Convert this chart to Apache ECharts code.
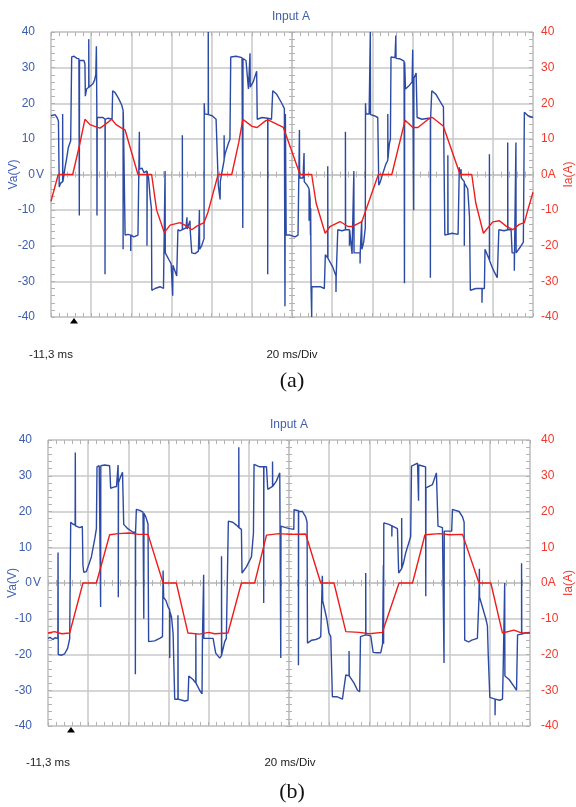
<!DOCTYPE html>
<html>
<head>
<meta charset="utf-8">
<title>Input A</title>
<script src="https://cdn.jsdelivr.net/npm/echarts@6.0.0/dist/echarts.min.js"></script>
<style>
  html, body { margin: 0; padding: 0; background: #fff; }
  #chart { width: 576px; height: 807px; }
</style>
</head>
<body>
<div id="chart"></div>
<script>
// time in ms from the left edge of the screen (12 div x 20 ms), Va in V, Ia in A
// (a) phase voltage
const vaA = [
  [0,16.5],[2.0,16.8],[3.0,16.0],[3.7,15.0],[4.1,-3.5],[4.7,-2.5],[5.8,-2],[5.8,17],[5.9,-2],[6.2,-1],[7.0,2],[7.8,4.5],[8.6,7.5],[9.8,9.5],[10.1,10],
  [10.3,33],[11.5,33.2],[12.9,32.6],[13.9,32.5],[14.1,-11.5],[14.2,32],[14.9,31.5],[16.4,32],[16.9,31],
  [17.1,22],[17.7,24],[18.8,24.5],[18.8,38],[18.9,24.5],[19.9,25],[20.9,25.5],[21.7,26.5],[22.3,28],[22.6,36],[22.8,20],[22.9,-11.5],[23.0,16],
  [23.9,15.5],[25.9,16],[26.9,15.5],[26.9,-28],[27.0,15.5],[28.4,15.8],[30.4,15.5],
  [30.7,23.5],[31.9,23],[33.5,21.5],[35.2,19.5],[35.9,18],[35.9,-21],[36.0,17.5],[36.5,17],
  [36.9,-17],[38.3,-16.8],[39.7,-17],[39.7,-21.5],[39.8,-17],[41.3,-17.5],[43.3,-17],
  [44.0,-17],[44.0,12],[44.1,1.5],[45.3,1.8],[46.3,0.5],[47.8,1],[47.8,-20],[47.9,0.5],[48.6,-1],[49.3,-6],[50.0,-9.5],
  [50.2,-32.5],[51.8,-32],[54.3,-31.5],[56.0,-32],[56.8,-31.5],[56.8,1],[56.9,-22],
  [57.3,-22.5],[58.8,-24],[59.8,-25],[60.6,-25.5],[60.6,-34],[60.7,-25.5],[61.3,-26],[62.6,-28.5],
  [63.2,-15.5],[64.2,-15.8],[65.4,-15.5],[65.4,11],[65.5,-15.5],[67.2,-15],[67.7,-12],[67.8,-15.3],[69.2,-13],[69.3,-15.5],[70.0,-15.5],
  [70.1,-22],[71.7,-22.2],[73.4,-21.5],[73.9,-21.5],[73.9,-10],[74.0,-21],[75.0,-20],[76.2,-18],
  [76.3,20],[76.5,17],[77.2,17],[78.3,16.8],[78.3,40],[78.4,16.8],[80.2,16.5],[82.2,15.5],
  [83.3,-3],[84.2,-3],[84.2,-7],[84.3,-2],[84.9,0],[86.2,4],[86.2,11],[86.3,4.5],[86.7,5.8],[88.3,8.7],[89.1,9.8],
  [89.5,33],[92.1,33.2],[95.1,32.8],[95.5,32.8],[95.5,-15],[95.6,32.5],[97.1,32],
  [98.3,24],[99.1,24.5],[99.1,34],[99.2,24.5],[100.1,25],[100.7,26],[102.4,29],
  [102.7,15.5],[105.1,16],[107.9,15.8],[107.9,-28],[108.0,15.8],[109.8,15.5],
  [110.4,23.5],[112.4,22.5],[114.9,20],[116.2,18.5],[116.5,-37],[116.7,17],[117.0,16.5],
  [117.1,-17],[119.0,-17],[121.5,-17.5],[123.0,-17],
  [123.7,-17],[123.7,12.5],[123.8,-1],[125.5,-1],[126.0,-1.5],[126.0,6],[126.1,-2],[127.5,-3],[128.5,-4],[128.5,-13],[128.6,-4.5],[129.0,-7],[129.2,-17],[129.3,-9.5],
  [129.5,-32],[129.8,-40],[129.9,-31.5],[132.0,-31.5],[134.0,-31.5],[136.1,-32],
  [136.6,-22.5],[137.8,-23.5],[137.8,2.3],[137.9,-23.5],[138.6,-24],[140.3,-26],[141.9,-28.5],[141.9,-33],[142.0,-28.5],
  [142.8,-15.5],[144.9,-15.8],[146.6,-15.5],[146.6,12],[146.7,-15.5],[148.6,-15.5],[148.6,-20],[148.7,-15.5],[149.4,-15.5],
  [149.9,-22.3],[150.8,-22],[150.8,1],[150.9,-22],[152.0,-22],[153.9,-22],[153.9,-25],[154.0,-21.5],[154.7,-21],[154.7,-13],[154.8,-21],[155.7,-19],[156.5,-15],
  [156.6,20],[156.8,17],[158.4,17],[159.0,16.8],[159.0,40],[159.1,16.8],[160.9,16.5],[162.7,16],
  [163.2,-3],[164.0,-2],[165.2,0.3],[166.8,3],[167.7,4],[167.7,17],[167.8,4.5],[168.5,8.7],[169.0,9.9],
  [169.3,33],[171.3,32.8],[171.7,32.8],[171.7,39],[171.8,32.6],[173.5,32.5],[175.8,31.8],[176.0,31.8],[176.0,-30.5],[176.1,31.5],
  [176.5,24],[178.4,25],[179.8,26],[180.1,26.2],[180.1,35],[180.2,26.5],[180.6,26.8],[180.6,-10],[180.7,27],[181.8,28.5],
  [182.3,16],[184.8,15.5],[187.8,15.8],[188.9,15.6],[188.9,-29],[189.0,15.5],[189.2,15.5],
  [189.6,23.5],[191.7,22.5],[193.7,20.5],[195.4,19],[195.9,18.5],
  [196.1,-17],[197.6,-16.8],[197.6,5.4],[197.7,-16.8],[199.7,-16.5],[202.7,-16.8],
  [203.3,-16.8],[203.3,2],[203.4,0],[204.2,0],[204.2,1.5],[204.3,-1],[205.8,-2],[205.8,-20],[205.9,-2.5],[207.5,-4],[208.4,-12],
  [208.8,-32.5],[211.6,-32],[214.6,-32],[214.6,-36],[214.7,-32],[215.8,-32],
  [216.1,-21],[218.3,-24],[218.3,5.7],[218.4,-24.2],[220.0,-26.5],[222.2,-29],
  [223.0,-15.5],[225.6,-15.8],[227.4,-15.5],[227.4,9],[227.5,-15.5],[229.1,-15.5],
  [229.6,-22],[230.7,-22],[230.7,-27],[230.8,-22],[231.5,-22],[231.5,9],[231.6,-22],[233.5,-20.5],[235.2,-19],
  [235.7,17.5],[237.5,16.5],[240,16]
];
// (a) phase current
const iaA = [
  [0,-7.5],[3.6,0],[10.8,0],[14.1,8],[16.9,15.5],[19.4,14],[22.8,13.3],[24.4,13],[26.9,14],[30.2,15.5],[32.4,14],[35.2,13],[36.9,12.5],
  [43.3,0],[50.1,0],[52.6,-10],[56.4,-16.3],[59.3,-14.2],[64.2,-13.5],[67.6,-14.5],[70.1,-15.5],[72.6,-14.5],[76.2,-13.5],[78.2,-10.5],
  [83.2,0],[90.0,0],[93.5,9],[95.5,15.5],[100.1,13.5],[102.6,13.2],[107.1,15.2],[108.6,15.2],[115.7,13.2],
  [124.0,0],[129.8,0],[132.0,-8],[136.5,-16.5],[138.9,-14.6],[143.9,-13.2],[147.9,-14.6],[149.9,-14.6],[154.8,-13.2],
  [163.0,0],[169.7,0],[176.3,15.2],[180.2,13.2],[182.7,13.2],[188.9,16],[189.9,16],[195.3,13.6],
  [203.7,0],[209.5,0],[211.5,-8],[215.3,-16.5],[220.0,-13.3],[223.3,-13],[226.6,-14.5],[229.9,-15.5],[233.2,-14],[235.7,-13.5],[237.4,-10],[240,-5]
];
// (b) phase voltage
const vaB = [
  [0,-15.5],[1.0,-15.2],[2.5,-15.8],[3.5,-15.3],[4.9,-15.5],[5.0,8.5],[5.1,-20],
  [6.8,-20.2],[8.3,-19.8],[9.8,-18.2],[10.8,-15.6],[11.2,-15.5],
  [11.3,17],[12.3,16.5],[13.5,16.2],[13.6,36.5],[13.7,16],[14.1,15.8],[15.8,15.5],[17.1,15.8],
  [17.4,5],[17.8,3],[18.3,2.8],[19.1,3.2],[19.9,4.5],[21.6,7.3],[23.3,12.4],[24.1,15.2],
  [24.4,32.5],[25.5,32.8],[26.2,33],[26.2,-6.7],[26.3,32.8],[28.2,33],[30.7,32.8],
  [31.2,26.5],[32.7,26.8],[34.1,27],[34.9,27.5],[34.9,33],[35.0,27.5],[35.0,-4],[35.1,28],[36.0,29.5],[37.1,31],
  [37.7,16.4],[39.7,15.2],[42.3,14.2],[43.5,14.2],[43.5,-25.5],[43.6,14.2],[43.9,14.5],
  [44.0,20.6],[45.7,20.3],[47.3,19.8],[47.7,19.6],[47.7,-10],[47.8,19.5],[48.7,18.5],[49.8,16.5],
  [50.1,-16.4],[53.1,-16.2],[55.6,-15.5],[57.0,-15],
  [57.3,3.5],[57.6,-4],[58.1,-4.4],[58.8,-5],[59.8,-6.7],[60.6,-7.5],[60.6,-21],[60.7,-8],[61.5,-9.5],[62.3,-14.2],
  [63.1,-32.5],[64.7,-32.5],[64.7,-9],[64.8,-32.5],[65.6,-32.5],[68.1,-33],[69.7,-32.8],
  [70.1,-26],[72.2,-27],[73.6,-28],[73.6,-14],[73.7,-28],[73.9,-28.5],[75.5,-30],[76.7,-31],
  [76.9,-15.9],[77.5,-15.5],[77.5,2.3],[77.6,-15.5],[79.5,-15.5],[82.2,-15.5],[83.0,-15.5],
  [83.5,-19.6],[85.5,-21],[86.4,-20.3],[86.4,7.5],[86.5,-20],[88.0,-16.4],[88.8,-15.5],
  [89.8,17.3],[92.0,17],[93.8,16.2],[95.0,15.5],[95.0,38],[95.1,15.5],[96.3,15],
  [96.6,2.8],[98.8,4.5],[101.3,7.3],[102.3,14],
  [102.6,33.2],[105.4,32.5],[107.4,32.5],[107.4,-5.6],[107.5,32.5],[108.8,32.5],
  [109.4,26.2],[111.8,27],[111.8,34],[111.9,27],[113.7,28.5],[115.4,30.8],
  [115.9,30.8],[115.9,-21],[116.0,15.9],[118.4,15.5],[120.4,15.2],[122.4,15],
  [122.5,20.5],[124.7,20.2],[124.7,-23],[124.8,20],[126.7,20],[128.3,18.5],[129.0,17],
  [129.2,-16.8],[131.3,-16],[133.3,-15.8],[134.8,-15.5],[135.8,-15],
  [136.6,-15],[136.6,2],[136.8,-5],[137.4,-6.5],[138.8,-10],[139.9,-14],
  [140.8,-15],[141.6,-31.8],[143.8,-31.8],[146.6,-32.5],[147.4,-33],
  [148.3,-25.7],[149.9,-26],[149.9,-19],[150.0,-26],[150.7,-26.5],[152.4,-28],[154.1,-30],[155.2,-30.4],
  [155.6,-15],[156.2,-15],[158.2,-14.5],[158.2,2.8],[158.3,-14.5],[160.7,-14.8],
  [161.9,-19.4],[163.7,-19.5],[165.7,-19.5],[166.6,-17],[167.0,-17],[167.0,5],[167.1,-17],
  [167.2,16.8],[169.8,16.4],[171.2,16],[171.2,13],[171.3,16],[174.0,15.2],
  [174.6,2.8],[176.1,4],[176.1,18.2],[176.2,4.2],[177.0,5.6],[178.1,8.4],[180.6,13],
  [181.0,32.7],[184.0,33.5],[184.5,33],[184.5,23],[184.6,33],[186.1,32.8],[188.0,32.5],[188.1,-3.7],[188.2,26.6],
  [191.4,27.5],[193.4,30.8],[193.9,31],
  [194.2,15.9],[196.4,15.5],[197.2,15],[197.2,-22.4],[197.3,14.5],[199.1,14.5],[201.0,14.5],
  [201.4,20.6],[202.5,20.4],[204.7,20],[206.4,18.5],[207.2,17],
  [207.5,-16],[209.4,-16.5],[211.0,-16],[213.8,-15.5],
  [214.6,-4],[214.8,4],[214.9,-4],[215.5,-4.5],[218.0,-10],[218.8,-12],
  [219.2,-20],[220.0,-32],[222.6,-32.5],[222.6,-37],[222.7,-32.5],[224.9,-32.8],[226.3,-32.5],
  [226.6,-25.5],[227.4,-26],[227.4,0],[227.5,-26],[229.6,-27],[232.1,-29],[233.3,-30],
  [233.8,-14.5],[235.8,-14.3],[235.8,5.5],[235.9,-14.3],[237.4,-14],[240,-13.8]
];
// (b) phase current
const iaB = [
  [0,-14],[3.3,-13.6],[6.8,-14.2],[10.8,-14],[11.3,-13.8],[17.4,0],[24.1,0],[30.7,13.5],[35,13.8],[40.7,14],[45,13.6],[49.8,13.6],
  [57.3,0],[63.9,0],[69.7,-14],[75.5,-14.3],[80,-13.8],[83.0,-14.2],[89.6,-14],
  [96.3,0],[102.9,0],[108.8,13.4],[115,13.8],[120,13.6],[128.3,13.7],
  [135.8,0],[142.4,0],[148.3,-13.6],[155,-13.8],[160,-14.2],[166.5,-13.8],
  [174.8,0],[181.5,0],[187.7,13.5],[195,13.8],[200,13.5],[206.4,13.6],
  [214.6,0],[220.5,0],[226.3,-14],[232,-13.2],[236,-14],[240,-14]
];

const TRACE_BLUE = '#2c4aa4';
const TRACE_RED = '#f01c1c';
const TEXT_BLUE = '#3d5eae';
const TEXT_RED = '#f2382c';
const GRID_GRAY = '#c8c8c8';
const TICK_GRAY = '#b2b2b2';
const FONT = '"Liberation Sans", Arial, sans-serif';

//时间轴(上下边框)
function timeAxis(gridIndex, position, withGrid) {
  return {
    type: 'value', gridIndex, position,
    min: 0, max: 240, interval: 20,
    axisLine: { show: false, onZero: false },
    axisTick: { show: true, inside: true, length: 4, lineStyle: { color: TICK_GRAY } },
    minorTick: { show: true, splitNumber: 5, length: 4, lineStyle: { color: TICK_GRAY } },
    axisLabel: { show: false },
    splitLine: { show: withGrid, lineStyle: { color: GRID_GRAY, width: 1.5 } }
  };
}

//电压轴(左)
function voltAxis(gridIndex, labelMargin, nameGap) {
  return {
    type: 'value', gridIndex, position: 'left',
    min: -40, max: 40, interval: 10,
    name: 'Va(V)', nameLocation: 'middle', nameGap: nameGap, nameRotate: 90, nameMoveOverlap: false,
    nameTextStyle: { color: TEXT_BLUE, fontSize: 12, fontFamily: FONT },
    axisLine: { show: false, onZero: false },
    axisTick: { show: true, inside: true, length: 4, lineStyle: { color: TICK_GRAY } },
    minorTick: { show: true, splitNumber: 5, length: 4, lineStyle: { color: TICK_GRAY } },
    axisLabel: {
      margin: labelMargin,
      formatter: v => (v === 0 ? '{n|0}{u|V}' : '{n|' + v + '}{u| }'),
      rich: {
        n: { color: TEXT_BLUE, fontSize: 12, fontFamily: FONT },
        u: { color: TEXT_BLUE, fontSize: 12, fontFamily: FONT, width: 10, align: 'left' }
      }
    },
    splitLine: { show: true, lineStyle: { color: GRID_GRAY, width: 1.5 } }
  };
}

//电流轴(右)
function ampAxis(gridIndex, labelMargin, nameGap) {
  return {
    type: 'value', gridIndex, position: 'right',
    min: -40, max: 40, interval: 10,
    name: 'Ia(A)', nameLocation: 'middle', nameGap: nameGap, nameRotate: 90, nameMoveOverlap: false,
    nameTextStyle: { color: TEXT_RED, fontSize: 12, fontFamily: FONT },
    axisLine: { show: false, onZero: false },
    axisTick: { show: true, inside: true, length: 4, lineStyle: { color: TICK_GRAY } },
    minorTick: { show: true, splitNumber: 5, length: 4, lineStyle: { color: TICK_GRAY } },
    axisLabel: {
      margin: labelMargin, color: TEXT_RED, fontSize: 12, fontFamily: FONT,
      formatter: v => (v === 0 ? '0A' : String(v))
    },
    splitLine: { show: false }
  };
}

//屏幕中心十字线上的刻度
function centerAxis(dim, gridIndex, inside) {
  const ax = {
    type: 'value', gridIndex,
    axisLine: { show: true, onZero: true, lineStyle: { color: GRID_GRAY, width: 1.5 } },
    axisTick: { show: true, inside, length: 3, lineStyle: { color: TICK_GRAY } },
    minorTick: { show: true, splitNumber: 5, length: 3, lineStyle: { color: TICK_GRAY } },
    axisLabel: { show: false },
    splitLine: { show: false }
  };
  if (dim === 'x') Object.assign(ax, { position: 'bottom', min: -6, max: 6, interval: 1 });
  else Object.assign(ax, { position: 'left', min: -4, max: 4, interval: 1 });
  return ax;
}

function caption(text, x, y, font, fill) {
  return {
    type: 'text', x, y, silent: true,
    style: { text, font, fill, textAlign: 'center', textVerticalAlign: 'middle' }
  };
}

function trigger(x, y) {
  return {
    type: 'polygon', x, y, silent: true,
    shape: { points: [[-4, 2.5], [4, 2.5], [0, -3]] },
    style: { fill: '#000' }
  };
}

function initChart() {
  const chart = echarts.init(document.getElementById('chart'), null, { renderer: 'canvas' });
  //不让 v6 自动收缩绘图区
  const gridA = { left: 51, top: 32, width: 482, height: 285, containLabel: false, outerBoundsMode: 'none' };
  const gridB = { left: 48, top: 440, width: 482, height: 286, containLabel: false, outerBoundsMode: 'none' };
  const frame = { show: true, borderColor: '#b4b4b4', borderWidth: 1, backgroundColor: '#fff' };

  const option = {
    animation: false,
    backgroundColor: '#fff',
    grid: [
      Object.assign({}, gridA, frame),
      Object.assign({}, gridB, frame),
      Object.assign({}, gridA),
      Object.assign({}, gridB)
    ],
    xAxis: [
      timeAxis(0, 'bottom', true),
      timeAxis(0, 'top', false),
      timeAxis(1, 'bottom', true),
      timeAxis(1, 'top', false),
      centerAxis('x', 2, true),
      centerAxis('x', 2, false),
      centerAxis('x', 3, true),
      centerAxis('x', 3, false)
    ],
    yAxis: [
      voltAxis(0, 6, 31),
      ampAxis(0, 8, 30),
      voltAxis(1, 6, 29),
      ampAxis(1, 11, 33),
      centerAxis('y', 2, true),
      centerAxis('y', 2, false),
      centerAxis('y', 3, true),
      centerAxis('y', 3, false)
    ],
    series: [
      { name: 'Va (a)', type: 'line', xAxisIndex: 0, yAxisIndex: 0, data: vaA, symbol: 'none', z: 3,
        lineStyle: { color: TRACE_BLUE, width: 1.4 } },
      { name: 'Ia (a)', type: 'line', xAxisIndex: 0, yAxisIndex: 1, data: iaA, symbol: 'none', z: 4,
        lineStyle: { color: TRACE_RED, width: 1.4 } },
      { name: 'Va (b)', type: 'line', xAxisIndex: 2, yAxisIndex: 2, data: vaB, symbol: 'none', z: 3,
        lineStyle: { color: TRACE_BLUE, width: 1.4 } },
      { name: 'Ia (b)', type: 'line', xAxisIndex: 2, yAxisIndex: 3, data: iaB, symbol: 'none', z: 4,
        lineStyle: { color: TRACE_RED, width: 1.4 } }
    ],
    graphic: [
      caption('Input A', 291, 17, '12px ' + FONT, TEXT_BLUE),
      caption('-11,3 ms', 51, 355, '11.5px ' + FONT, '#222'),
      caption('20 ms/Div', 292, 355, '11.5px ' + FONT, '#222'),
      caption('(a)', 292, 381, '22px "Liberation Serif", "Times New Roman", serif', '#111'),
      trigger(74, 321),
      caption('Input A', 289, 425, '12px ' + FONT, TEXT_BLUE),
      caption('-11,3 ms', 48, 763, '11.5px ' + FONT, '#222'),
      caption('20 ms/Div', 290, 763, '11.5px ' + FONT, '#222'),
      caption('(b)', 292, 792, '22px "Liberation Serif", "Times New Roman", serif', '#111'),
      trigger(71, 730)
    ]
  };
  chart.setOption(option);
}

initChart();
</script>
</body>
</html>
